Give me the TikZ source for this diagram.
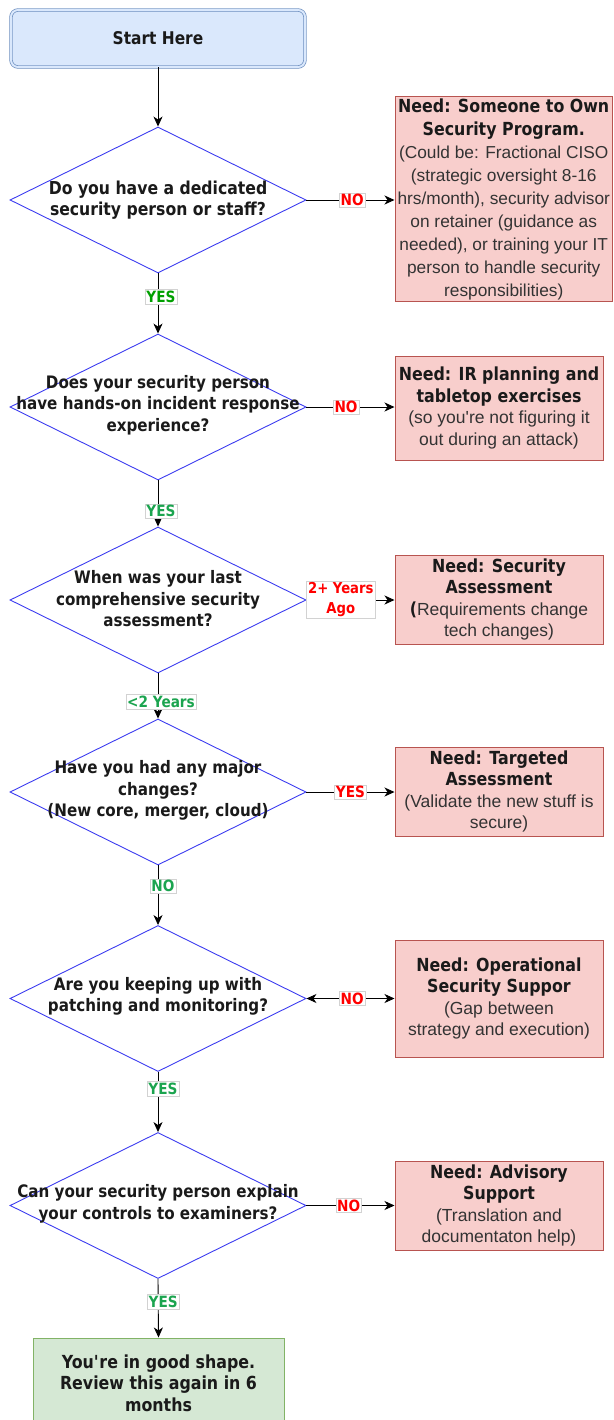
\documentclass[tikz,border=0pt]{standalone}
\usepackage{fontspec}
\setmainfont{Liberation Sans}
\newfontfamily\tah{DejaVu Sans}[FakeStretch=0.88]
\usetikzlibrary{shapes.geometric,arrows.meta}
\definecolor{qblue}{RGB}{60,60,240}
\definecolor{pinkf}{HTML}{F8CECC}
\definecolor{pinkd}{HTML}{B85450}
\definecolor{greenf}{HTML}{D5E8D4}
\definecolor{greend}{HTML}{82B366}
\definecolor{bluef}{HTML}{DAE8FC}
\definecolor{blued}{HTML}{6C8EBF}
\definecolor{txt}{HTML}{1A1A1A}
\definecolor{body}{HTML}{333333}
\definecolor{lred}{HTML}{FF0000}
\definecolor{lgreenA}{HTML}{00A000}
\definecolor{lgreen}{HTML}{1BA44F}
\tikzset{
  qshape/.style={diamond, draw=qblue, line width=0.9pt, fill=white,
    minimum width=296pt, minimum height=146pt, inner sep=0pt},
  qtext/.style={align=center, text=txt, font=\tah\bfseries\fontsize{17.2}{21.5}\selectfont},
  needbox/.style={rectangle, draw=pinkd, fill=pinkf, line width=1pt, inner sep=0pt,
    align=center, text=body, font=\fontsize{17.5}{21.5}\selectfont},
  lbl/.style={fill=white, draw=gray!35, line width=0.6pt, inner sep=1.3pt,
    align=center, font=\tah\bfseries\fontsize{15.5}{19}\selectfont},
  arr/.style={draw=black, line width=0.9pt, -{Stealth[length=10pt,width=9pt,inset=3pt]}},
  darr/.style={draw=black, line width=0.9pt, {Stealth[length=10pt,width=9pt,inset=3pt]}-{Stealth[length=10pt,width=9pt,inset=3pt]}},
}
\newcommand{\hdf}{\tah\bfseries\fontsize{18}{21.5}\selectfont\color{txt}}
\begin{document}
\begin{tikzpicture}[x=1pt,y=-1pt]
\useasboundingbox (0,0) rectangle (613,1420);
% start
\node[rectangle, rounded corners=7pt, draw=blued, double=bluef, double distance=2pt,
  line width=0.7pt, fill=bluef, minimum width=294pt, minimum height=57pt,
  text=txt, font=\tah\bfseries\fontsize{17.5}{21}\selectfont] (start) at (158,38.5) {Start Here};
% diamonds
\node[qshape] (d1) at (158,200) {};
\node[qtext, font=\tah\bfseries\fontsize{17.8}{21}\selectfont] (t1) at (d1.center) {Do you have a dedicated\\security person or staff?};
\node[qshape] (d2) at (158,407) {};
\node[qtext] (t2) at ([yshift=2pt]d2.center) {Does your security person\\have hands-on incident response\\experience?};
\node[qshape] (d3) at (158,600) {};
\node[qtext] (t3) at ([yshift=1pt]d3.center) {When was your last\\comprehensive security\\assessment?};
\node[qshape] (d4) at (158,792) {};
\node[qtext] (t4) at ([yshift=1.5pt]d4.center) {Have you had any major\\changes?\\(New core, merger, cloud)};
\node[qshape] (d5) at (158,998.5) {};
\node[qtext] (t5) at ([yshift=2pt]d5.center) {Are you keeping up with\\patching and monitoring?};
\node[qshape] (d6) at (158,1205.5) {};
\node[qtext] (t6) at ([yshift=1.5pt]d6.center) {Can your security person explain\\your controls to examiners?};
% need boxes
\node[needbox, minimum width=217.5pt, minimum height=205pt, font=\fontsize{17.3}{23}\selectfont] (b1) at (503.75,199.5)
  {{\hdf Need: Someone to Own}\\{\hdf Security Program.}\\(Could be: Fractional CISO\\(strategic oversight 8-16\\hrs/month), security advisor\\on retainer (guidance as\\needed), or training your IT\\person to handle security\\responsibilities)};
\node[needbox, minimum width=208pt, minimum height=104pt] (b2) at (499,408)
  {{\hdf Need: IR planning and}\\{\hdf tabletop exercises}\\(so you\textquotesingle re not figuring it\\out during an attack)};
\node[needbox, minimum width=208pt, minimum height=89pt] (b3) at (499,599.5)
  {{\hdf Need: Security}\\{\hdf Assessment}\\{\hdf(}Requirements change\\tech changes)};
\node[needbox, minimum width=208pt, minimum height=89pt] (b4) at (499,791.5)
  {{\hdf Need: Targeted}\\{\hdf Assessment}\\(Validate the new stuff is\\secure)};
\node[needbox, minimum width=208pt, minimum height=117pt] (b5) at (499,998.5)
  {{\hdf Need: Operational}\\{\hdf Security Suppor}\\(Gap between\\strategy and execution)};
\node[needbox, minimum width=208pt, minimum height=89pt] (b6) at (499,1205.5)
  {{\hdf Need: Advisory}\\{\hdf Support}\\(Translation and\\documentaton help)};
% end
\node[rectangle, draw=greend, fill=greenf, line width=1pt, minimum width=251pt, minimum height=90pt,
  align=center, text=txt, font=\tah\bfseries\fontsize{18}{21.5}\selectfont] (fin) at (158.5,1383)
  {You\textquotesingle re in good shape.\\Review this again in 6\\months};
% connectors
\draw[arr] (start.south) -- (d1.north);
\draw[arr] (d1.east) -- node[lbl, pos=0.52, text=lred] (l1) {NO} (d1.east -| b1.west);
\draw[arr] (d1.south) -- node[lbl, pos=0.39, xshift=3pt, text=lgreenA] (y1) {YES} (d2.north);
\draw[arr] (d2.east) -- node[lbl, pos=0.45, text=lred] (l2) {NO} (d2.east -| b2.west);
\draw[arr] (d2.south) -- node[lbl, pos=0.67, xshift=3pt, text=lgreen] (y2) {YES} (d3.north);
\draw[arr] (d3.east) -- node[lbl, pos=0.39, text=lred, font=\tah\bfseries\fontsize{15}{20}\selectfont] (l3) {2+ Years\\Ago} (d3.east -| b3.west);
\draw[arr] (d3.south) -- node[lbl, pos=0.63, xshift=3pt, text=lgreen] (y3) {<2 Years} (d4.north);
\draw[arr] (d4.east) -- node[lbl, pos=0.5, text=lred] (l4) {YES} (d4.east -| b4.west);
\draw[arr] (d4.south) -- node[lbl, pos=0.35, xshift=5pt, text=lgreen] (y4) {NO} (d5.north);
\draw[darr] (d5.east) -- node[lbl, pos=0.52, text=lred] (l5) {NO} (d5.east -| b5.west);
\draw[arr] (d5.south) -- node[lbl, pos=0.28, xshift=5pt, text=lgreen] (y5) {YES} (d6.north);
\draw[arr] (d6.east) -- node[lbl, pos=0.48, text=lred] (l6) {NO} (d6.east -| b6.west);
\draw[arr] (d6.south) -- node[lbl, pos=0.39, xshift=5pt, text=lgreen] (y6) {YES} (fin.north);
\end{tikzpicture}
\end{document}
